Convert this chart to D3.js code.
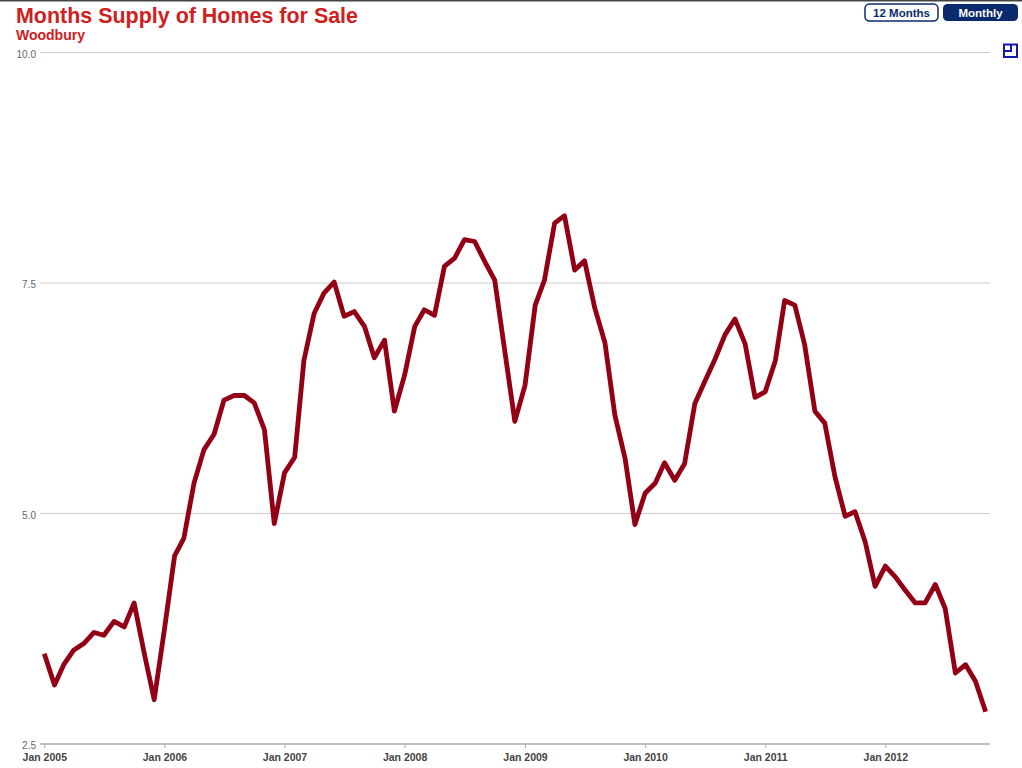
<!DOCTYPE html>
<html><head><meta charset="utf-8">
<script src="https://cdn.jsdelivr.net/npm/d3@7"></script>
<style>
html,body{margin:0;padding:0;background:#fff;}
svg{display:block;}
text{font-family:"Liberation Sans",Arial,sans-serif;}
</style></head><body><div id="chart"></div>
<script>
const title = "Months Supply of Homes for Sale";
const subtitle = "Woodbury";
const yTicks = [2.5, 5, 7.5, 10];
const xTickYears = [2005,2006,2007,2008,2009,2010,2011,2012];
const buttons = ["12 Months","Monthly"];
const values2005 = [3.48,3.14,3.36,3.52,3.59,3.71,3.68,3.83,3.77,4.03,3.48,2.98];
const values2006 = [3.74,4.54,4.73,5.33,5.69,5.86,6.23,6.28,6.28,6.20,5.91,4.89];
const values2007 = [5.44,5.61,6.66,7.17,7.39,7.51,7.14,7.19,7.03,6.69,6.88,6.11];
const values2008 = [6.50,7.03,7.21,7.15,7.68,7.77,7.97,7.95,7.73,7.53,6.75,6.00];
const values2009 = [6.39,7.26,7.53,8.15,8.23,7.64,7.74,7.23,6.85,6.07,5.60,4.88];
const values2010 = [5.22,5.33,5.55,5.36,5.54,6.19,6.43,6.67,6.94,7.11,6.84,6.26];
const values2011 = [6.32,6.66,7.31,7.26,6.83,6.11,5.98,5.40,4.97,5.02,4.69,4.21];
const values2012 = [4.43,4.31,4.17,4.03,4.03,4.23,3.97,3.27,3.36,3.18,2.85];
const values = [].concat(values2005,values2006,values2007,values2008,values2009,values2010,values2011,values2012);
const dates = values.map((_,i)=>new Date(2005,i,1));

const W=1022,H=768;
const svg=d3.select("#chart").append("svg").attr("width",W).attr("height",H);
const x=d3.scaleTime().domain([new Date(2005,0,1),new Date(2012,0,1)]).range([44.3,885.3]);
const y=d3.scaleLinear().domain([2.5,10]).range([744,52.5]);

svg.append("rect").attr("x",0).attr("y",0).attr("width",W).attr("height",1.5).attr("fill","#444");

svg.append("text").attr("x",16).attr("y",23).attr("font-size",22).attr("font-weight","bold").attr("fill","#cf2020").attr("textLength",342).attr("lengthAdjust","spacingAndGlyphs").text(title);
svg.append("text").attr("x",16).attr("y",40).attr("font-size",14).attr("font-weight","bold").attr("fill","#cf2020").text(subtitle);

// grid + y axis
const gy=svg.append("g")
  .call(d3.axisLeft(y).tickValues(yTicks).tickFormat(d3.format(".1f")).tickSize(0).tickPadding(0));
gy.select(".domain").remove();
gy.selectAll(".tick line").remove();
gy.selectAll(".tick text").attr("x",36).attr("y",1.5).attr("dy","0.32em")
  .attr("font-size",10).attr("font-family","Liberation Sans, Arial, sans-serif").attr("fill","#666").attr("text-anchor","end");
svg.append("g").selectAll("line").data(yTicks.filter(d=>d>2.5)).join("line")
  .attr("x1",40).attr("x2",990).attr("y1",d=>y(d)).attr("y2",d=>y(d)).attr("stroke","#cccccc").attr("stroke-width",1);

// x axis
const gx=svg.append("g").attr("transform",`translate(0,${y(2.5)})`)
  .call(d3.axisBottom(x).tickValues(xTickYears.map(v=>new Date(v,0,1))).tickFormat(d3.timeFormat("Jan %Y")).tickSize(4).tickPadding(6));
gx.select(".domain").remove();
gx.selectAll(".tick line").attr("stroke","#aaa");
gx.selectAll(".tick text").attr("font-size",10.5).attr("font-weight","bold").attr("font-family","Liberation Sans, Arial, sans-serif").attr("fill","#444");
svg.append("line").attr("x1",40).attr("x2",990).attr("y1",y(2.5)).attr("y2",y(2.5)).attr("stroke","#aaaaaa").attr("stroke-width",1.5);

// line
svg.append("path").attr("d",d3.line().x((d,i)=>x(dates[i])).y(d=>y(d))(values))
  .attr("fill","none").attr("stroke","#930016").attr("stroke-width",4.8).attr("stroke-linejoin","round").attr("stroke-linecap","butt");

// buttons
const navy="#0a2a6e";
const bx=[[865,73],[943,75]];
buttons.forEach((b,i)=>{
  svg.append("rect").attr("x",bx[i][0]).attr("y",4).attr("width",bx[i][1]).attr("height",17).attr("rx",4.5)
    .attr("fill",i?navy:"#fff").attr("stroke",navy).attr("stroke-width",i?0:1.5);
  svg.append("text").attr("x",bx[i][0]+bx[i][1]/2).attr("y",17).attr("text-anchor","middle").attr("font-size",11.5).attr("font-weight","bold")
    .attr("fill",i?"#fff":navy).text(b);
});
// icon
const ic=svg.append("g").attr("fill","none").attr("stroke","#1515b0").attr("stroke-width",2);
ic.append("rect").attr("x",1004).attr("y",44.5).attr("width",13).attr("height",12.5);
ic.append("path").attr("d","M1011 44.5V51H1004");
</script></body></html>
